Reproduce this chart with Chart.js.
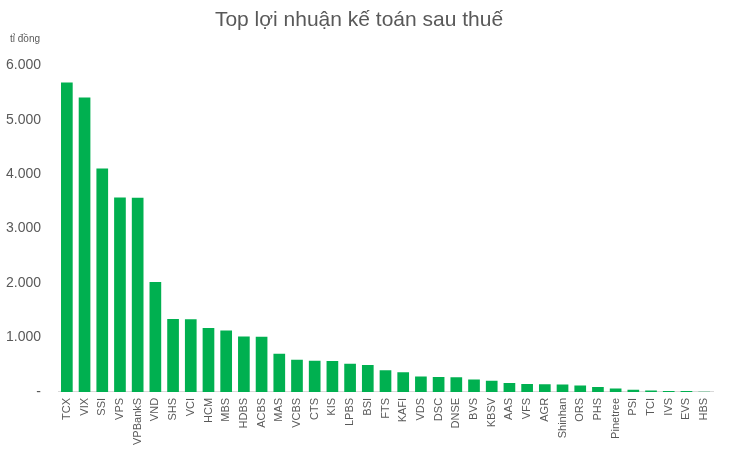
<!DOCTYPE html>
<html>
<head>
<meta charset="utf-8">
<script src="https://cdn.jsdelivr.net/npm/chart.js@4/dist/chart.umd.min.js"></script>
<style>
  html, body { margin: 0; padding: 0; background: #fff; }
  #wrap { width: 730px; height: 456px; }
</style>
</head>
<body>
<div id="wrap"><canvas id="profit_chart"></canvas></div>
<script>
// Lợi nhuận kế toán sau thuế, tỉ đồng
const companies = ['TCX', 'VIX', 'SSI', 'VPS', 'VPBankS', 'VND', 'SHS', 'VCI', 'HCM', 'MBS',
  'HDBS', 'ACBS', 'MAS', 'VCBS', 'CTS', 'KIS', 'LPBS', 'BSI', 'FTS', 'KAFI',
  'VDS', 'DSC', 'DNSE', 'BVS', 'KBSV', 'AAS', 'VFS', 'AGR', 'Shinhan', 'ORS',
  'PHS', 'Pinetree', 'PSI', 'TCI', 'IVS', 'EVS', 'HBS'];
const profits = [5680, 5405, 4103, 3571, 3565, 2018, 1339, 1335, 1174, 1130,
  1020, 1015, 703, 593, 574, 570, 519, 495, 396, 360,
  281, 275, 268, 226, 207, 165, 147, 140, 134, 116,
  92, 61, 42, 24, 18, 18, 3];
const yTicks = [0, 1000, 2000, 3000, 4000, 5000, 6000];

const textColor = '#595959';
const fontFamily = '"Liberation Sans", Arial, Helvetica, sans-serif';

new Chart(document.getElementById('profit_chart'), {
  type: 'bar',
  data: {
    labels: companies,
    datasets: [{
      label: 'Lợi nhuận',
      data: profits,
      backgroundColor: '#00B050',
      borderWidth: 0,
      categoryPercentage: 1,
      barPercentage: 0.66
    }]
  },
  options: {
    responsive: true,
    maintainAspectRatio: false,
    animation: false,
    layout: { padding: { left: 5, right: 17, top: 8, bottom: 5 } },
    scales: {
      x: {
        grid: { display: false, drawTicks: false },
        border: { display: true, color: '#D9D9D9', width: 1 },
        ticks: {
          autoSkip: false,
          maxRotation: 90,
          minRotation: 90,
          padding: 6,
          color: textColor,
          font: { family: fontFamily, size: 11 }
        }
      },
      y: {
        min: 0,
        max: 6000,
        afterBuildTicks: axis => { axis.ticks = yTicks.map(v => ({ value: v })); },
        afterFit: axis => { axis.width = 53; },
        grid: { display: false, drawTicks: false },
        border: { display: false },
        ticks: {
          padding: 17,
          color: textColor,
          font: { family: fontFamily, size: 14 },
          callback: v => v === 0 ? '-' : v.toLocaleString('de-DE')
        }
      }
    },
    plugins: {
      legend: { display: false },
      tooltip: { enabled: false },
      title: {
        display: true,
        text: 'Top lợi nhuận kế toán sau thuế',
        color: textColor,
        font: { family: fontFamily, size: 21, weight: 'normal' },
        padding: { top: 0, bottom: 0 }
      },
      subtitle: {
        display: true,
        text: '\u2002tỉ đồng',
        align: 'start',
        color: textColor,
        font: { family: fontFamily, size: 10, weight: 'normal' },
        padding: { top: 0, bottom: 20 }
      }
    }
  }
});
</script>
</body>
</html>
